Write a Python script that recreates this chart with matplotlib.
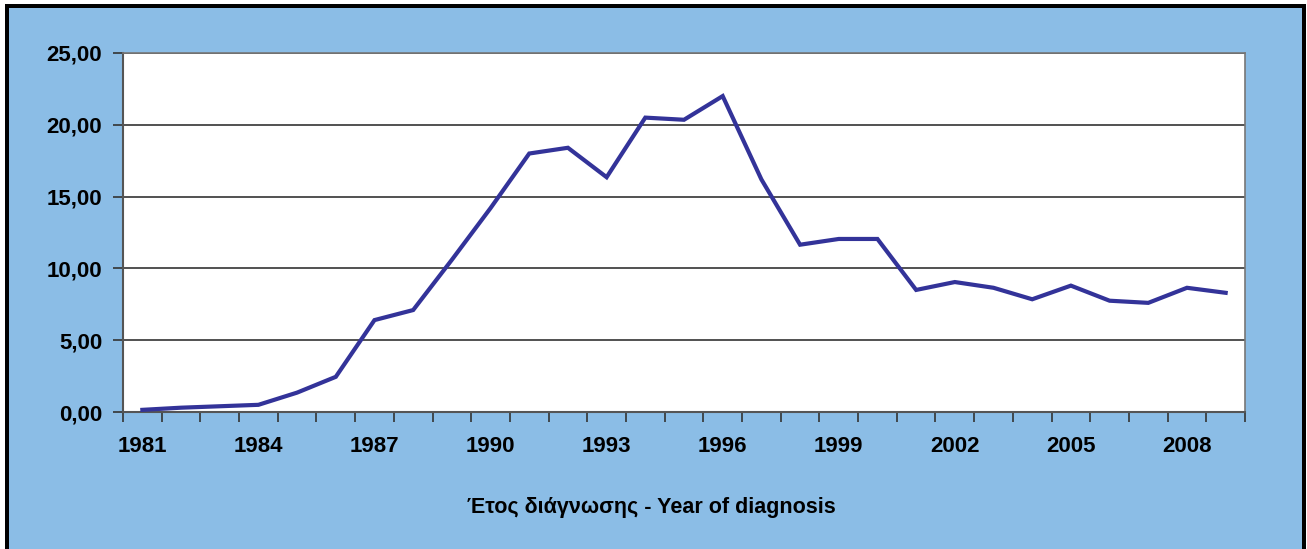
import matplotlib
matplotlib.use("Agg")
import matplotlib.pyplot as plt
from matplotlib.patches import Rectangle

years = list(range(1981, 2010))
values = [0.15, 0.3, 0.4, 0.5, 1.35, 2.45, 6.4, 7.1, 10.6, 14.2,
          18.0, 18.4, 16.35, 20.5, 20.35, 22.0, 16.2, 11.65, 12.05, 12.05,
          8.5, 9.05, 8.65, 7.85, 8.8, 7.75, 7.6, 8.65, 8.3]
ytick_values = [0, 5, 10, 15, 20, 25]
ytick_labels = ["0,00", "5,00", "10,00", "15,00", "20,00", "25,00"]
xlabel = "Έτος διάγνωσης - Year of diagnosis"

plt.rcParams['font.family'] = ['Liberation Sans', 'DejaVu Sans']

W, H = 1307, 549
fig = plt.figure(figsize=(W / 100, H / 100), dpi=100)
fig.patch.set_facecolor('white')

bg = '#8BBDE6'
fig.patches.append(Rectangle((7 / W, 0), (1304 - 7) / W, (H - 5) / H,
                             transform=fig.transFigure, facecolor=bg,
                             edgecolor='none', zorder=-3))
fig.patches.append(Rectangle((5 / W, 0), 4 / W, (H - 4) / H, transform=fig.transFigure,
                             facecolor='black', edgecolor='none', zorder=-2))
fig.patches.append(Rectangle((5 / W, (H - 8) / H), (1306 - 5) / W, 4 / H, transform=fig.transFigure,
                             facecolor='black', edgecolor='none', zorder=-2))
fig.patches.append(Rectangle((1302 / W, 0), 4 / W, (H - 4) / H, transform=fig.transFigure,
                             facecolor='black', edgecolor='none', zorder=-2))

left, right, top, bottom = 123, 1245, 53, 412
ax = fig.add_axes([left / W, 1 - bottom / H, (right - left) / W, (bottom - top) / H])
ax.set_zorder(2)
ax.set_facecolor('white')

n = len(years)
xs = [i + 0.5 for i in range(n)]
ax.set_xlim(0, n)
ax.set_ylim(0, 25)

for v in ytick_values[1:]:
    ax.axhline(v, color='#333333', lw=1.2, zorder=1)

ax.plot(xs, values, color='#333399', lw=3, zorder=3, solid_joinstyle='miter')

ax.set_yticks(ytick_values)
ax.set_yticklabels(ytick_labels, fontsize=16, fontweight='bold')
ax.set_xticks(range(n + 1))
ax.set_xticklabels([])
ax.set_xticks([i + 0.5 for i in range(0, n, 3)], minor=True)
ax.set_xticklabels([str(years[i]) for i in range(0, n, 3)], minor=True,
                   fontsize=16, fontweight='bold')
ax.tick_params(axis='x', which='minor', length=0, pad=17)
ax.tick_params(axis='x', which='major', length=7, width=1.2, color='#333333', direction='out')
ax.tick_params(axis='y', length=7, width=1.2, color='#333333', pad=8)

for s in ['left', 'bottom']:
    ax.spines[s].set_color('#555555')
    ax.spines[s].set_linewidth(1.5)
ax.spines['top'].set_color('#777777')
ax.spines['top'].set_linewidth(1.2)
ax.spines['right'].set_color('#777777')
ax.spines['right'].set_linewidth(1.2)

fig.text(651 / W, 1 - 508 / H, xlabel, ha='center', va='center',
         fontsize=15.5, fontweight='bold')

fig.savefig('out.png', dpi=100, facecolor=fig.get_facecolor())
